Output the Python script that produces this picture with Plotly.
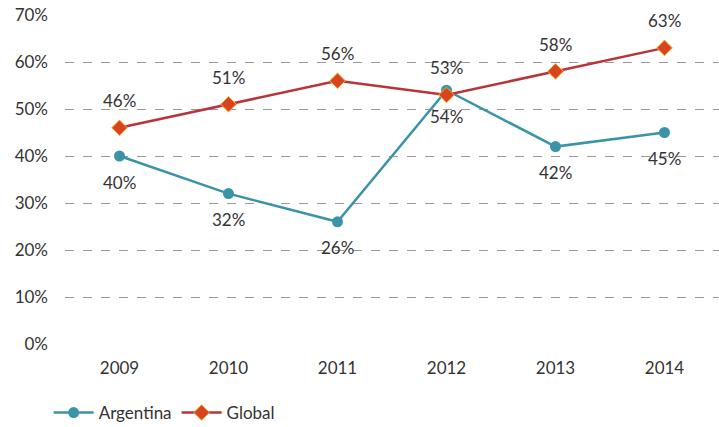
import plotly.graph_objects as go

years = ["2009", "2010", "2011", "2012", "2013", "2014"]
argentina = [40, 32, 26, 54, 42, 45]
global_vals = [46, 51, 56, 53, 58, 63]
y_ticks = [0, 10, 20, 30, 40, 50, 60, 70]

FONT = "Lato, 'Open Sans', sans-serif"
TXT = "#333333"
TEAL = "#3B93A8"
RED = "#B8343A"

fig = go.Figure()
fig.add_trace(go.Scatter(
    x=years, y=argentina, name="Argentina", mode="lines+markers",
    line=dict(color=TEAL, width=2.5),
    marker=dict(symbol="circle", size=11, color=TEAL),
))
fig.add_trace(go.Scatter(
    x=years, y=global_vals, name="Global", mode="lines+markers",
    line=dict(color=RED, width=2.5),
    marker=dict(symbol="diamond", size=12, color="#D9441E",
                line=dict(color="#F2B23A", width=1)),
))

# value labels: Argentina below its points, Global above
# (category positions are given by index on the category axis)
for i, v in enumerate(argentina):
    fig.add_annotation(x=i, y=v, xref="x", yref="y", text=f"{v}%",
                       showarrow=False, yshift=-26,
                       font=dict(family=FONT, size=17, color=TXT))
for i, v in enumerate(global_vals):
    fig.add_annotation(x=i, y=v, xref="x", yref="y", text=f"{v}%",
                       showarrow=False, yshift=27,
                       font=dict(family=FONT, size=17, color=TXT))

fig.update_layout(
    width=719, height=427,
    margin=dict(l=65, r=0, t=15, b=83, autoexpand=False),
    plot_bgcolor="white", paper_bgcolor="white",
    font=dict(family=FONT, size=17, color=TXT),
    showlegend=True,
    legend=dict(orientation="h", x=-0.025, y=-0.155, xanchor="left", yanchor="top",
                font=dict(family=FONT, size=17, color=TXT), itemwidth=40),
    xaxis=dict(type="category", range=[-0.5, 5.5], showgrid=False, zeroline=False,
               showline=False, ticks="", ticklabelstandoff=12, tickfont=dict(size=17)),
    yaxis=dict(range=[0, 70], tickvals=y_ticks,
               ticktext=[f"{t}%" for t in y_ticks],
               showgrid=True, gridcolor="#999999", griddash="dash", gridwidth=1,
               zeroline=False, showline=False, ticks="", ticklabelstandoff=16,
               tickfont=dict(size=17)),
)

fig.write_html("out.html")
